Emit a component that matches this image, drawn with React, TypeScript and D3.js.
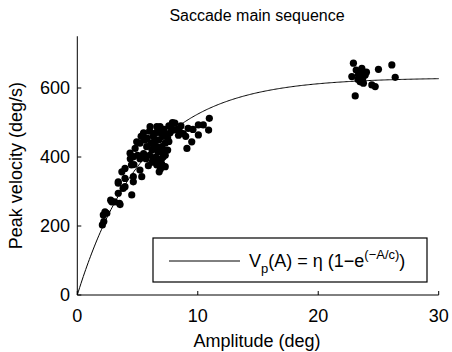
import React from "react";
import * as d3 from "d3";

const W = 452;
const H = 352;

const xTicks = [0, 10, 20, 30];
const yTicks = [0, 200, 400, 600];

const ETA = 630;
const C = 5.6;

// Lower cluster: small/medium saccades [amplitude deg, peak velocity deg/s]
const smallSaccades: [number, number][] = [
  [2.08, 203], [2.2, 213], [2.16, 232], [2.45, 237], [2.3, 241], [2.77, 275], [2.86, 270],
  [3.1, 270], [3.5, 266], [3.55, 262], [3.4, 295], [3.8, 309], [4.52, 290], [3.4, 324],
  [3.96, 314], [4.65, 328], [3.4, 328], [3.96, 338], [3.7, 357], [3.96, 367], [4.5, 377],
  [4.65, 343], [5.35, 343], [5.2, 362], [4.38, 411], [4.8, 425], [5.2, 440], [4.93, 444],
  [5.6, 449], [6.04, 488], [6.6, 488], [6.87, 488], [6.2, 420], [6.6, 377], [6.8, 357],
  [7.3, 372], [6.3, 391], [7.14, 401], [5.76, 430], [4.65, 401], [4.4, 395], [5.0, 405],
  [4.7, 378], [5.2, 395], [5.5, 410], [5.7, 395], [5.9, 375], [6.0, 405], [6.1, 440],
  [6.3, 460], [6.5, 470], [6.4, 445], [6.6, 430], [6.7, 415], [6.8, 450], [6.9, 470],
  [7.0, 430], [7.0, 395], [7.1, 460], [7.2, 480], [7.3, 440], [7.0, 380], [6.9, 365],
  [7.2, 420], [7.4, 465], [7.5, 455], [6.5, 400], [6.3, 425], [6.7, 395], [6.2, 385],
  [5.8, 455], [5.5, 470], [5.3, 460], [6.0, 475], [6.5, 450], [6.9, 415], [7.6, 490],
  [7.7, 470], [7.8, 485], [8.0, 478], [8.1, 498], [7.9, 500], [8.3, 480], [8.5, 473],
  [8.8, 468], [9.2, 483], [8.6, 490], [9.0, 460], [10.05, 493], [10.46, 493], [10.96, 512],
  [10.9, 478], [10.05, 464], [9.5, 444], [9.1, 425], [9.6, 480], [8.4, 463], [7.6, 445],
  [7.5, 420], [7.3, 405],
];

// Upper cluster: large saccades
const largeSaccades: [number, number][] = [
  [22.92, 672], [23.62, 657], [25.0, 654], [26.11, 667], [26.39, 631], [22.79, 633],
  [23.34, 638], [23.9, 638], [23.48, 618], [23.75, 614], [24.45, 609], [24.73, 604],
  [23.07, 577], [23.15, 652], [23.7, 629], [24.0, 646], [23.3, 625], [23.6, 645],
];

const FONT = "'Liberation Sans', Arial, Helvetica, sans-serif";

export default function App() {
  const x = d3.scaleLinear().domain([0, 30]).range([77.3, 438.7]);
  const y = d3.scaleLinear().domain([0, 750]).range([295, 36.25]);

  const curveA = d3.range(0, 30.001, 0.1);
  const line = d3
    .line<number>()
    .x((a) => x(a))
    .y((a) => y(ETA * (1 - Math.exp(-a / C))));

  const pts = [...smallSaccades, ...largeSaccades];
  const fs = 18;

  return (
    <svg
      width={W}
      height={H}
      style={{ position: "absolute", left: 0, top: 0, background: "#fff" }}
      fontFamily={FONT}
    >
      <rect x={0} y={0} width={W} height={H} fill="#fff" />
      <text x={257} y={21} fontSize={16} textAnchor="middle" fill="#000">
        Saccade main sequence
      </text>

      {/* axes */}
      <line x1={x(0)} x2={x(0)} y1={y(750)} y2={y(0)} stroke="#000" strokeWidth={1} />
      <line x1={x(0)} x2={x(30)} y1={y(0)} y2={y(0)} stroke="#000" strokeWidth={1} />
      {xTicks.map((t) => (
        <g key={"x" + t}>
          <line x1={x(t)} x2={x(t)} y1={y(0)} y2={y(0) - 4} stroke="#000" />
          <text x={x(t)} y={322} fontSize={fs} textAnchor="middle" fill="#000">
            {t}
          </text>
        </g>
      ))}
      {yTicks.map((t) => (
        <g key={"y" + t}>
          <line x1={x(0)} x2={x(0) + 4} y1={y(t)} y2={y(t)} stroke="#000" />
          <text x={70} y={y(t) + 6} fontSize={fs} textAnchor="end" fill="#000">
            {t}
          </text>
        </g>
      ))}
      <text x={257} y={347} fontSize={fs} textAnchor="middle" fill="#000">
        Amplitude (deg)
      </text>
      <text
        transform={`translate(22,${(y(0) + y(750)) / 2}) rotate(-90)`}
        fontSize={fs}
        textAnchor="middle"
        fill="#000"
      >
        Peak velocity (deg/s)
      </text>

      {/* fit curve */}
      <path d={line(curveA) || ""} fill="none" stroke="#000" strokeWidth={1} />

      {/* data points */}
      {pts.map((p, i) => (
        <circle key={i} cx={x(p[0])} cy={y(p[1])} r={3.6} fill="#000" />
      ))}

      {/* legend */}
      <rect x={153} y={238} width={274} height={44} fill="#fff" stroke="#000" strokeWidth={1.2} />
      <line x1={169} x2={240} y1={261} y2={261} stroke="#000" strokeWidth={1} />
      <text x={249} y={267} fontSize={fs} fill="#000">
        <tspan>V</tspan>
        <tspan fontSize={13} dy={6}>p</tspan>
        <tspan dy={-6}>(A) = η (1−e</tspan>
        <tspan fontSize={13} dy={-8}>(−A/c)</tspan>
        <tspan dy={8}>)</tspan>
      </text>
    </svg>
  );
}
